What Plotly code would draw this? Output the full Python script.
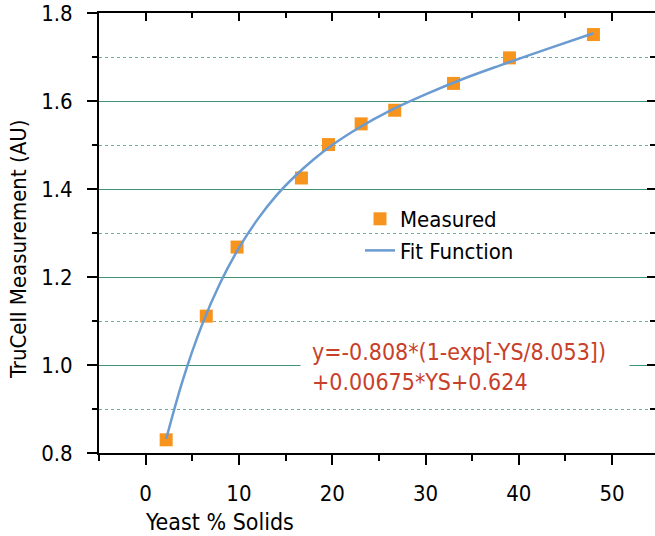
import plotly.graph_objects as go

ys_measured = [2.2, 6.5, 9.8, 16.7, 19.6, 23.1, 26.7, 33.0, 39.0, 48.0]
tc_measured = [0.830, 1.111, 1.268, 1.425, 1.501, 1.548, 1.579, 1.640, 1.698, 1.751]

# Fit function curve
ys_fit = [2.2, 4, 6, 8, 10, 12, 14, 16, 18, 20, 23, 26, 30, 34, 38, 43, 48]
tc_fit = [0.832, 0.967, 1.089, 1.187, 1.266, 1.331, 1.385, 1.429, 1.467, 1.500,
          1.541, 1.576, 1.615, 1.650, 1.681, 1.718, 1.754]

x_range = [-5, 54.6]
y_range = [0.8, 1.8]

x_title = "Yeast % Solids"
y_title = "TruCell Measurement (AU)"
equation = "y=-0.808*(1-exp[-YS/8.053])<br>+0.00675*YS+0.624"

FONT = "DejaVu Sans Condensed, Liberation Sans, Arial, sans-serif"
W, H = 655, 536
ML, MR, MT, MB = 99, 0, 13, 83
PW, PH = W - ML - MR, H - MT - MB

def px_x(px):
    return (px - ML) / PW

def px_y(py):
    return (H - MB - py) / PH

fig = go.Figure()
fig.add_trace(go.Scatter(
    x=ys_measured, y=tc_measured, mode="markers", name="Measured",
    marker=dict(symbol="square", size=13, color="#f7941d"),
))
fig.add_trace(go.Scatter(
    x=ys_fit, y=tc_fit, mode="lines", name="Fit Function",
    line=dict(color="#6a9bd1", width=2.5, shape="spline"),
))
# invisible trace for mirrored (top/right) tick axes
fig.add_trace(go.Scatter(
    x=[x_range[0]], y=[y_range[0]], xaxis="x2", yaxis="y2", mode="markers",
    marker=dict(opacity=0), showlegend=False, hoverinfo="skip",
))

axis_common = dict(showline=True, linecolor="black", linewidth=2, zeroline=False,
                   tickcolor="black", tickwidth=2, automargin=False)

fig.update_layout(
    width=W, height=H,
    margin=dict(l=ML, r=MR, t=MT, b=MB),
    paper_bgcolor="white", plot_bgcolor="white",
    font=dict(family=FONT, size=22, color="black"),
    showlegend=True,
    legend=dict(x=px_x(360), y=px_y(198), xanchor="left", yanchor="top",
                bgcolor="rgba(0,0,0,0)", font=dict(size=22)),
    xaxis=dict(range=x_range, dtick=10, tick0=0, ticks="outside", ticklen=10,
               showgrid=False, ticklabelstandoff=10, mirror=True,
               minor=dict(ticks="outside", ticklen=6, dtick=5, tick0=0, tickcolor="black", tickwidth=2),
               **axis_common),
    yaxis=dict(range=y_range, dtick=0.2, tick0=0.8, ticks="outside", ticklen=10,
               tickformat=".1f", showgrid=True, gridcolor="#3f9473", gridwidth=1,
               ticklabelstandoff=10, mirror=True,
               minor=dict(ticks="outside", ticklen=5, dtick=0.1, tick0=0.8, tickcolor="black",
                          tickwidth=2, showgrid=True, gridcolor="#6fb09f", griddash="dot", gridwidth=1),
               **axis_common),
    xaxis2=dict(range=x_range, overlaying="x", side="top", anchor="y2", dtick=10, tick0=0,
                ticks="inside", ticklen=8, showticklabels=False, showgrid=False,
                minor=dict(ticks="inside", ticklen=5, dtick=5, tick0=0, tickcolor="black", tickwidth=2),
                **axis_common),
    yaxis2=dict(range=y_range, overlaying="y", side="right", anchor="x2", dtick=0.2, tick0=0.8,
                ticks="inside", ticklen=8, showticklabels=False, showgrid=False,
                minor=dict(ticks="inside", ticklen=5, dtick=0.1, tick0=0.8, tickcolor="black", tickwidth=2),
                **axis_common),
    annotations=[
        dict(text=x_title, xref="paper", yref="paper", x=px_x(143), y=px_y(522),
             xanchor="left", yanchor="middle", showarrow=False, font=dict(size=23)),
        dict(text=y_title, xref="paper", yref="paper", x=px_x(19), y=px_y(250),
             xanchor="center", yanchor="middle", textangle=-90, showarrow=False, font=dict(size=22)),
        dict(text=equation, xref="paper", yref="paper", x=px_x(300), y=px_y(367),
             xanchor="left", yanchor="middle", align="left", showarrow=False, width=306,
             bgcolor="white", borderpad=11, font=dict(size=23, color="#c8402a")),
    ],
)

fig.write_html("out.html", config={"displayModeBar": False},
               post_script="document.body.style.margin='0';")
